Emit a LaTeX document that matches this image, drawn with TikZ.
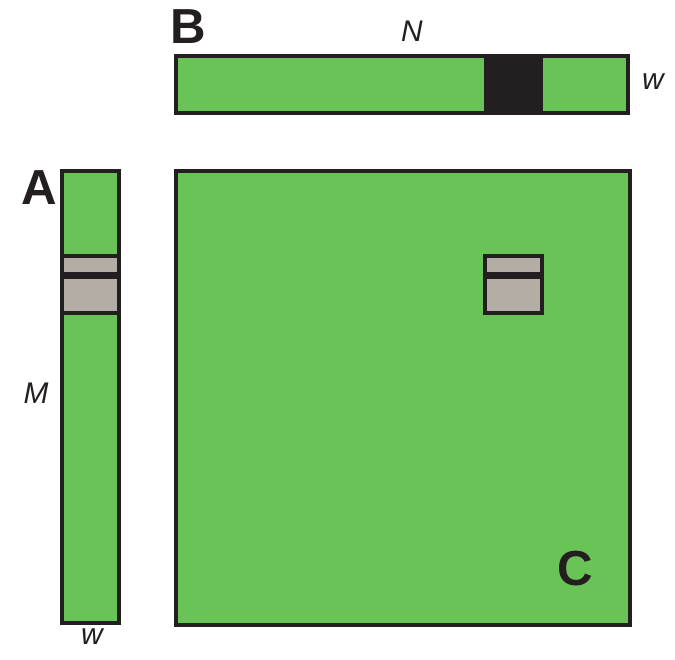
\documentclass[tikz,border=0pt]{standalone}
\usepackage{fontspec}
\setmainfont{Liberation Sans}
\definecolor{matgreen}{RGB}{106,195,86}
\definecolor{matgray}{RGB}{180,173,166}
\definecolor{matdark}{RGB}{35,31,32}
\tikzset{
  mat/.style={fill=matgreen,draw=matdark,line width=2.3pt},
  tile/.style={fill=matgray,draw=matdark,line width=2.3pt},
  biglabel/.style={font=\fontsize{28}{28}\selectfont\bfseries,text=matdark},
  dimlabel/.style={font=\fontsize{17}{17}\selectfont\itshape,text=matdark}
}
\begin{document}
\begin{tikzpicture}[x=0.02cm,y=-0.02cm]
\useasboundingbox (0,0) rectangle (675,659);
% matrix B with its dark column block
\draw[mat] (176,56) rectangle (628,113);
\fill[matdark] (484,56) rectangle (543,113);
\draw[matdark,line width=2.3pt] (176,56) rectangle (628,113);
% matrix A with its tile
\draw[mat] (62,171) rectangle (119,623);
\draw[tile] (62,256) rectangle (119,313);
\fill[matdark] (62,272) rectangle (119,279);
% matrix C with its tile
\draw[mat] (176,171) rectangle (630,625);
\draw[tile] (485,256) rectangle (542,313);
\fill[matdark] (485,272) rectangle (542,279);
% labels
\node[biglabel] (labB) at (188,27) {B};
\node[dimlabel] (labN) at (412,31) {N};
\node[dimlabel] (labwB) at (653,82) {w};
\node[biglabel] (labA) at (39,188) {A};
\node[dimlabel] (labM) at (36,393) {M};
\node[dimlabel] (labwA) at (92,637) {w};
\node[biglabel] (labC) at (575,569) {C};
\end{tikzpicture}
\end{document}
